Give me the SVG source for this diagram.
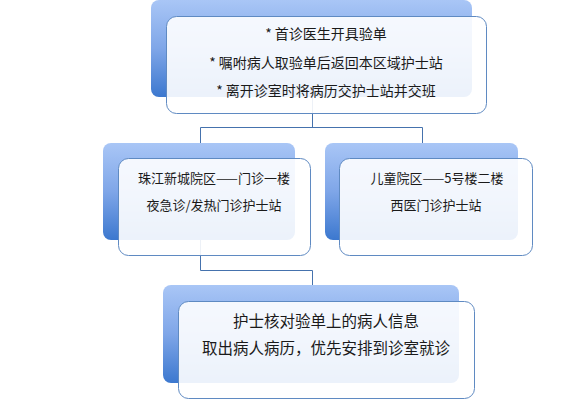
<svg xmlns="http://www.w3.org/2000/svg" width="586" height="400" viewBox="0 0 586 400">
<defs>
<linearGradient id="bg" x1="0" y1="0" x2="0" y2="1">
<stop offset="0" stop-color="#a9c6f6"/>
<stop offset="0.5" stop-color="#7fa6e8"/>
<stop offset="1" stop-color="#3c78cf"/>
</linearGradient>
<style>
.back{fill:url(#bg);}
.front{fill:#ffffff;fill-opacity:0.9;stroke:#5f8ac2;stroke-width:1;}
.conn{fill:none;stroke:#4572ad;stroke-width:1;}
text{font-family:"Noto Sans CJK SC","Liberation Sans",sans-serif;fill:#1a1a1a;text-anchor:middle;dominant-baseline:central;}
.t14{font-size:14px;}
.t13{font-size:13px;}
.t15{font-size:15.5px;}
</style>
</defs>
<rect width="586" height="400" fill="#ffffff"/>
<g id="connectors">
<path class="conn" d="M312.5,97 V127.5 M200.5,127.5 H422.5 M200.5,127.5 V143 M422.5,127.5 V143"/>
<path class="conn" d="M200.5,240 V270.5 H312.5 V285"/>
</g>
<g id="node-top">
<rect class="back" x="151" y="0" width="321" height="97" rx="8"/>
<rect class="front" x="166.5" y="16.5" width="320" height="97" rx="10"/>
<text class="t14" x="326" y="33">* 首诊医生开具验单</text>
<text class="t14" x="326" y="62">* 嘱咐病人取验单后返回本区域护士站</text>
<text class="t14" x="326" y="90">* 离开诊室时将病历交护士站并交班</text>
</g>
<g id="node-left">
<rect class="back" x="103" y="143" width="192" height="97" rx="8"/>
<rect class="front" x="118.5" y="158.5" width="192" height="97" rx="10"/>
<text class="t13" x="214" y="177">珠江新城院区——门诊一楼</text>
<text class="t13" x="214" y="204">夜急诊/发热门诊护士站</text>
</g>
<g id="node-right">
<rect class="back" x="325" y="143" width="193" height="97" rx="8"/>
<rect class="front" x="339.5" y="158.5" width="193" height="97" rx="10"/>
<text class="t13" x="437" y="177">儿童院区——5号楼二楼</text>
<text class="t13" x="436" y="204">西医门诊护士站</text>
</g>
<g id="node-bottom">
<rect class="back" x="163" y="285" width="296" height="98" rx="8"/>
<rect class="front" x="178.5" y="301.5" width="296" height="97" rx="10"/>
<text class="t15" x="326" y="320">护士核对验单上的病人信息</text>
<text class="t15" x="326" y="347">取出病人病历，优先安排到诊室就诊</text>
</g>
</svg>
